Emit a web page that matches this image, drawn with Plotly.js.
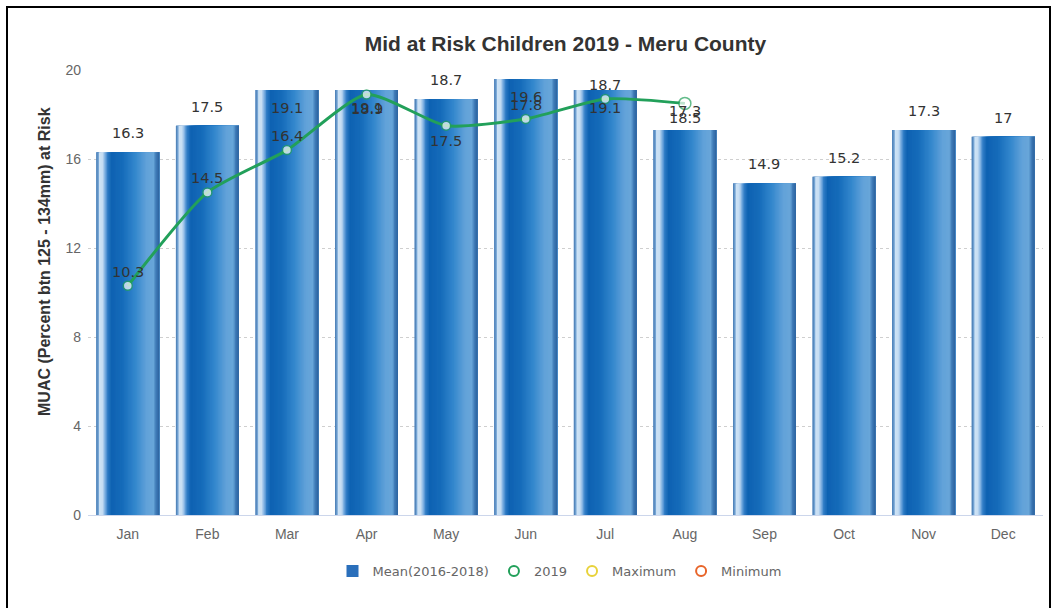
<!DOCTYPE html>
<html>
<head>
<meta charset="utf-8">
<script src="https://cdn.plot.ly/plotly-3.0.1.min.js"></script>
<style>
  html, body { margin: 0; padding: 0; background: #fff; }
  #chart { width: 1055px; height: 608px; }
  #frame { position: absolute; left: 6px; top: 6px; width: 1041px; height: 700px;
           border: 2px solid #000; pointer-events: none; }
</style>
</head>
<body>
<div id="chart"></div>
<div id="frame"></div>
<script>
// ---- data ----
const months = ["Jan","Feb","Mar","Apr","May","Jun","Jul","Aug","Sep","Oct","Nov","Dec"];
const mean2016_2018 = [16.3, 17.5, 19.1, 19.1, 18.7, 19.6, 19.1, 17.3, 14.9, 15.2, 17.3, 17];
const months2019 = ["Jan","Feb","Mar","Apr","May","Jun","Jul","Aug"];
const values2019 = [10.3, 14.5, 16.4, 18.9, 17.5, 17.8, 18.7, 18.5];
const maximum = [null, null, null, null, null, null, null, null, null, null, null, null];
const minimum = [null, null, null, null, null, null, null, null, null, null, null, null];
const yTicks = [0, 4, 8, 12, 16, 20];

// label placement (style only): +1 above, -1 inside/below
const meanLabelSide = [1, 1, -1, -1, 1, -1, -1, 1, 1, 1, 1, 1];
const y2019LabelSide = [1, 1, 1, -1, -1, 1, 1, -1];

// ---- cylinder-like gradient for the bars (styling) ----
const barW = 0.79;
const stops = [
  [0.00, [70,120,175]],
  [0.03, [110,160,210]],
  [0.05, [205,226,245]],
  [0.10, [198,221,243]],
  [0.14, [120,172,224]],
  [0.18, [45,122,196]],
  [0.24, [14,98,178]],
  [0.42, [22,108,186]],
  [0.62, [52,136,205]],
  [0.80, [98,162,217]],
  [0.91, [104,166,217]],
  [0.95, [62,122,182]],
  [1.00, [44,98,158]]
];
function colorAt(f) {
  for (let i = 0; i < stops.length - 1; i++) {
    const a = stops[i], b = stops[i+1];
    if (f >= a[0] && f <= b[0]) {
      const t = (f - a[0]) / (b[0] - a[0] || 1);
      const c = a[1].map((v, k) => Math.round(v + (b[1][k] - v) * t));
      return `rgb(${c[0]},${c[1]},${c[2]})`;
    }
  }
  const c = stops[stops.length-1][1];
  return `rgb(${c[0]},${c[1]},${c[2]})`;
}

const traces = [];
// base full-width bar (legend entry)
traces.push({
  type: 'bar', x: months, y: mean2016_2018, name: 'Mean(2016-2018)',
  width: barW, offset: -barW/2,
  marker: { color: '#2a6fbb', line: { width: 0 } },
  hoverinfo: 'y', showlegend: true, legendrank: 1
});
const N = 48;
for (let i = 0; i < N; i++) {
  const f0 = i / N, f1 = (i + 1) / N;
  traces.push({
    type: 'bar', x: months, y: mean2016_2018,
    width: barW * (1 - f0), offset: -barW/2 + f0 * barW,
    marker: { color: colorAt((f0 + f1) / 2), line: { width: 0 } },
    hoverinfo: 'skip', showlegend: false
  });
}

const green = '#22a05a';
traces.push({
  type: 'scatter', mode: 'lines+markers', x: months2019, y: values2019, name: '2019',
  line: { color: green, width: 3, shape: 'spline', smoothing: 0.6 },
  marker: { color: '#ffffff', size: values2019.map((v, i) => i === values2019.length - 1 ? 12 : 9),
            line: { color: green, width: 1.5 } },
  showlegend: false, cliponaxis: false
});
// legend proxies
traces.push({ type: 'scatter', mode: 'markers', x: months2019, y: values2019.map(() => null), name: '2019',
  marker: { symbol: 'circle-open', color: green, size: 10, line: { width: 2 } }, legendrank: 2, hoverinfo: 'skip' });
traces.push({ type: 'scatter', mode: 'markers', x: months, y: maximum, name: 'Maximum',
  marker: { symbol: 'circle-open', color: '#e8d23a', size: 10, line: { width: 2 } }, legendrank: 3, hoverinfo: 'skip' });
traces.push({ type: 'scatter', mode: 'markers', x: months, y: minimum, name: 'Minimum',
  marker: { symbol: 'circle-open', color: '#e8652a', size: 10, line: { width: 2 } }, legendrank: 4, hoverinfo: 'skip' });

const labelFont = { family: 'DejaVu Sans', size: 14.5, color: '#333' };
const annotations = [];
months.forEach((m, i) => {
  annotations.push({ x: m, y: mean2016_2018[i], xref: 'x', yref: 'y', text: String(mean2016_2018[i]),
    showarrow: false, yshift: meanLabelSide[i] > 0 ? 19 : -18, font: labelFont });
});
months2019.forEach((m, i) => {
  annotations.push({ x: m, y: values2019[i], xref: 'x', yref: 'y', text: String(values2019[i]),
    showarrow: false, yshift: y2019LabelSide[i] > 0 ? 14 : -15, font: labelFont });
});
// y-axis title
annotations.push({
  xref: 'paper', yref: 'paper', x: (44 - 88) / 955, y: (515 - 262) / 445,
  xanchor: 'center', yanchor: 'middle', textangle: -90, showarrow: false,
  text: '<b>MUAC (Percent btn 125 - 134mm) at Risk</b>',
  font: { family: 'Liberation Sans, Arial, sans-serif', size: 16, color: '#333' }
});

const layout = {
  width: 1055, height: 608,
  margin: { l: 88, r: 12, t: 70, b: 93, autoexpand: false },
  paper_bgcolor: '#fff', plot_bgcolor: '#fff',
  barmode: 'overlay',
  font: { family: 'Liberation Sans, Arial, sans-serif', size: 14, color: '#666' },
  title: { text: '<b>Mid at Risk Children 2019 - Meru County</b>',
           font: { family: 'Liberation Sans, Arial, sans-serif', size: 21, color: '#333' },
           x: 0.5, xref: 'paper', xanchor: 'center', y: 1 - 44/608, yanchor: 'middle' },
  xaxis: {
    type: 'category', categoryorder: 'array', categoryarray: months, automargin: false,
    range: [-0.5, months.length - 0.5], autorange: false,
    showline: true, linecolor: '#ccd6eb', linewidth: 1, showgrid: false,
    ticks: '', tickfont: { size: 14, color: '#666' }, ticklabelstandoff: 6,
    zeroline: false, fixedrange: true
  },
  yaxis: {
    range: [0, 20], autorange: false, tickvals: yTicks, ticktext: yTicks.map(String), automargin: false,
    showgrid: true, gridcolor: '#cfcfcf', griddash: 'dot', gridwidth: 1,
    zeroline: false, showline: false, ticks: '',
    tickfont: { size: 14, color: '#666' }, ticklabelstandoff: 6,
    fixedrange: true
  },
  legend: { orientation: 'h', x: 0.5 - 6 / 955, xanchor: 'center', y: (515 - 571) / 445, yanchor: 'middle',
            font: { family: 'DejaVu Sans', size: 13, color: '#666' }, traceorder: 'normal' },
  annotations: annotations,
  showlegend: true
};

Plotly.newPlot('chart', traces, layout, { displayModeBar: false, staticPlot: true });
</script>
</body>
</html>
